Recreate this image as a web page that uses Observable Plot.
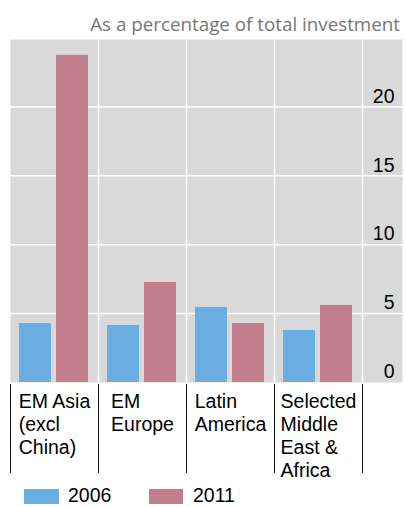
<!DOCTYPE html>
<html>
<head>
<meta charset="utf-8">
<script src="https://cdn.jsdelivr.net/npm/d3@7"></script>
<script src="https://cdn.jsdelivr.net/npm/@observablehq/plot@0.6"></script>
<style>
  html, body { margin: 0; padding: 0; background: #fff; }
  #wrap { position: relative; width: 406px; height: 507px; overflow: hidden; }
  #subtitle { position: absolute; right: 6px; top: 15px; font-family: "Open Sans", sans-serif; font-size: 18.8px; line-height: 18.8px; color: #767676; white-space: nowrap; }
  #legend { position: absolute; left: 0; top: 0; font-family: "Liberation Sans", Arial, sans-serif; font-size: 19.5px; line-height: 15px; color: #000; }
  .sw { position: absolute; height: 15px; }
  .lt { position: absolute; white-space: nowrap; }
  #chart { position: absolute; left: 0; top: 0; }
</style>
</head>
<body>
<div id="wrap">
  <div id="chart"></div>
  <div id="subtitle"></div>
  <div id="legend"></div>
</div>
<script>
const subtitle = "As a percentage of total investment";
const regions = ["EM Asia (excl China)", "EM Europe", "Latin America", "Selected Middle East & Africa"];
const regionLabels = ["EM Asia\n(excl\nChina)", "EM\nEurope", "Latin\nAmerica", "Selected\nMiddle\nEast &\nAfrica"];
const years = ["2006", "2011"];
const values2006 = [4.28, 4.14, 5.45, 3.78];
const values2011 = [23.75, 7.26, 4.28, 5.59];
const yTicks = [0, 5, 10, 15, 20];
const colors = ["#6aade1", "#c27e8e"];

const rows2006 = regions.map((r, i) => ({region: r, value: values2006[i]}));
const rows2011 = regions.map((r, i) => ({region: r, value: values2011[i]}));
const labelOf = new Map(regions.map((r, i) => [r, regionLabels[i]]));

const W = 406, H = 480;
const xRange = [10, 362];
const half = (xRange[1] - xRange[0]) / regions.length / 2;

const chart = Plot.plot({
  width: W,
  height: H,
  marginTop: 39,
  marginBottom: 98,
  marginLeft: 10,
  marginRight: 4,
  style: {fontFamily: "'Liberation Sans', Arial, sans-serif", fontSize: "19.5px", color: "#000", background: "transparent", overflow: "visible"},
  x: {type: "band", domain: regions, range: xRange, padding: 0, label: null},
  y: {domain: [0, 24.9], label: null},
  marks: [
    Plot.frame({fill: "#d9d9d9"}),
    Plot.ruleY(yTicks.filter(d => d > 0), {stroke: "#fff", strokeWidth: 1.5}),
    Plot.ruleX(regions.slice(1), {x: d => d, dx: -half, stroke: "#fff", strokeWidth: 1.5}),
    Plot.ruleX(regions.slice(-1), {x: d => d, dx: half, stroke: "#fff", strokeWidth: 1.5}),
    Plot.barY(rows2006, {x: "region", y: "value", fill: colors[0], insetLeft: 9, insetRight: 47}),
    Plot.barY(rows2011, {x: "region", y: "value", fill: colors[1], insetLeft: 46, insetRight: 10}),
    Plot.axisY({anchor: "right", label: null, ticks: yTicks, tickSize: 0, tickPadding: 0, textAnchor: "end", dx: -8, lineAnchor: "middle", dy: -10.5, fontSize: 19.5}),
    Plot.axisX({label: null, ticks: regions, tickSize: 89, dx: -half, dy: 2, tickFormat: () => "", stroke: "#111"}),
    Plot.axisX({label: null, ticks: regions.slice(-1), tickSize: 89, dx: half, dy: 2, tickFormat: () => "", stroke: "#111"}),
    Plot.text(regions, {x: d => d, text: d => labelOf.get(d), frameAnchor: "bottom", lineAnchor: "top", dy: 9, fontSize: 19.5, lineHeight: 1.18, textAnchor: "middle", fill: "#000"})
  ]
});
document.getElementById("chart").append(chart);

// Center each label block while keeping its lines left-aligned
chart.querySelectorAll('g[aria-label="text"] text').forEach(t => {
  const spans = t.querySelectorAll("tspan");
  if (!spans.length) return;
  let w = 0;
  spans.forEach(s => { w = Math.max(w, s.getComputedTextLength()); });
  t.setAttribute("text-anchor", "start");
  spans.forEach(s => s.setAttribute("x", -w / 2));
});

document.getElementById("subtitle").textContent = subtitle;

const legend = document.getElementById("legend");
const legendPos = [{sw: 24, sww: 35, tx: 68}, {sw: 149, sww: 34, tx: 193}];
years.forEach((y, i) => {
  const s = document.createElement("div");
  s.className = "sw";
  s.style.left = legendPos[i].sw + "px";
  s.style.width = legendPos[i].sww + "px";
  s.style.top = "489px";
  s.style.background = colors[i];
  legend.append(s);
  const t = document.createElement("div");
  t.className = "lt";
  t.style.left = legendPos[i].tx + "px";
  t.style.top = "488px";
  t.textContent = y;
  legend.append(t);
});
</script>
</body>
</html>
